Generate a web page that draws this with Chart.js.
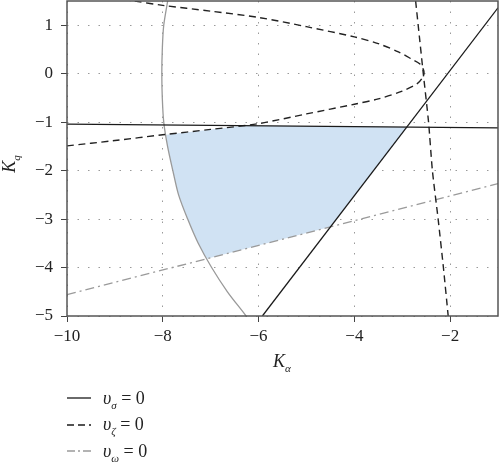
<!DOCTYPE html>
<html>
<head>
<meta charset="utf-8">
<script src="https://cdn.jsdelivr.net/npm/chart.js@4"></script>
<style>
  body { margin: 0; background: #fff; }
  #wrap { position: relative; width: 500px; height: 469px; font-family: "Liberation Serif", "DejaVu Serif", serif; color: #222; }
  #chart { position: absolute; left: 0; top: 0; }
  .axis-title { position: absolute; font-size: 18px; line-height: 20px; white-space: nowrap; }
  .axis-title i { font-style: italic; }
  .axis-title sub, .lab sub { font-size: 11px; vertical-align: baseline; position: relative; top: 5px; font-style: italic; }
  #xTitle { left: 273px; top: 351px; }
  #yTitle { left: -5px; top: 153px; width: 30px; text-align: center; transform: rotate(-90deg); }
  #legend { position: absolute; left: 67px; top: 385px; }
  .item { height: 26.5px; display: flex; align-items: center; }
  .lab { margin-left: 12px; font-size: 18px; }
  .lab i { font-style: italic; }
</style>
</head>
<body>
<div id="wrap">
  <canvas id="chart" width="500" height="469"></canvas>
  <div id="xTitle" class="axis-title"><i>K</i><sub>α</sub></div>
  <div id="yTitle" class="axis-title"><i>K</i><sub>q</sub></div>
  <div id="legend"></div>
</div>
<script>
// axis ranges and ticks
const xRange = [-10, -1];
const yRange = [-5, 1.5];
const xStep = 2;
const yStep = 1;

// v_sigma = 0 (two solid black lines)
const sigmaFlat = [[-10, -1.04], [-1, -1.12]];
const sigmaSlope = [[-5.92, -5], [-1, 1.36]];

// v_zeta = 0 (dashed): parabola-like branch and the near vertical branch
const zetaBend = [
  [-10, -1.49], [-9, -1.38], [-8, -1.26], [-7, -1.15], [-6, -1.03], [-5, -0.83],
  [-4, -0.63], [-3.5, -0.52], [-3, -0.36], [-2.68, -0.2], [-2.56, -0.05],
  [-2.55, 0.06], [-2.63, 0.2], [-2.8, 0.3], [-3.08, 0.45], [-3.5, 0.62],
  [-4, 0.76], [-5, 0.97], [-6, 1.16], [-7, 1.29], [-8, 1.41], [-8.6, 1.5], [-9, 1.56]
];
const zetaSteep = [
  [-2.72, 1.5], [-2.64, 0.75], [-2.56, 0], [-2.45, -1], [-2.37, -2],
  [-2.25, -3], [-2.14, -4], [-2.04, -5]
];

// v_omega = 0 (grey dash-dot)
const omegaLine = [[-10, -4.56], [-1, -2.27]];

// grey boundary curve
const boundCurve = [
  [-7.88, 1.6], [-7.98, 1.0], [-8.01, 0.5], [-8.02, 0], [-8.01, -0.5], [-7.98, -1.0],
  [-7.9, -1.5], [-7.79, -2], [-7.67, -2.5], [-7.48, -3], [-7.26, -3.5],
  [-6.98, -4], [-6.65, -4.5], [-6.26, -5], [-6.2, -5.1]
];

// shaded stable region
const stableRegion = [
  [-7.93, -1.26], [-7, -1.15], [-6.3, -1.07], [-2.9, -1.1], [-4.5, -3.16],
  [-7.08, -3.82], [-7.26, -3.5], [-7.48, -3], [-7.67, -2.5], [-7.79, -2],
  [-7.9, -1.5], [-7.93, -1.26]
];

const legendItems = [
  { sym: 'σ', color: '#1a1a1a', dash: '' },
  { sym: 'ζ', color: '#1a1a1a', dash: '7 4' },
  { sym: 'ω', color: '#9a9a9a', dash: '8 3 2 3' }
];

const pts = arr => arr.map(p => ({ x: p[0], y: p[1] }));
const minus = v => (v < 0 ? '\u2212' + Math.abs(v) : String(v));

function line(data, color, dash, width, tension) {
  return {
    data: pts(data),
    showLine: true,
    borderColor: color,
    borderWidth: width,
    borderDash: dash,
    pointRadius: 0,
    tension: tension || 0,
    fill: false
  };
}

const frame = {
  id: 'frame',
  afterDatasetsDraw(chart) {
    const { ctx, chartArea: a } = chart;
    ctx.save();
    ctx.strokeStyle = '#555';
    ctx.lineWidth = 1.5;
    ctx.strokeRect(a.left, a.top, a.right - a.left, a.bottom - a.top);
    ctx.restore();
  }
};

const tickFont = { family: "'Liberation Serif', 'DejaVu Serif', serif", size: 17 };

new Chart(document.getElementById('chart'), {
  type: 'scatter',
  data: {
    datasets: [
      line(sigmaFlat, '#1a1a1a', [], 1.3),
      line(sigmaSlope, '#1a1a1a', [], 1.3),
      line(zetaBend, '#222', [7, 4.5], 1.4, 0.3),
      line(zetaSteep, '#222', [7, 4.5], 1.4, 0.2),
      line(omegaLine, '#9a9a9a', [9, 4, 2, 4], 1.3),
      line(boundCurve, '#999', [], 1.3, 0.3),
      {
        data: pts(stableRegion),
        showLine: true,
        borderWidth: 0,
        borderColor: 'rgba(0,0,0,0)',
        backgroundColor: 'rgb(208, 226, 243)',
        pointRadius: 0,
        fill: 'shape'
      }
    ]
  },
  options: {
    responsive: false,
    animation: false,
    layout: { padding: { left: 0, top: 1, right: 2, bottom: 123 } },
    plugins: { legend: { display: false }, tooltip: { enabled: false } },
    scales: {
      x: {
        min: xRange[0],
        max: xRange[1],
        afterFit(s) { s.height = 30; s.paddingLeft = 0; s.paddingRight = 0; },
        border: { display: false, dash: [1.5, 9] },
        grid: { color: '#9a9a9a', lineWidth: 1, tickLength: 6, tickColor: '#444', tickWidth: 1, tickBorderDash: [] },
        ticks: { stepSize: xStep, includeBounds: false, padding: 4, color: '#222', font: tickFont, maxRotation: 0, callback: minus }
      },
      y: {
        min: yRange[0],
        max: yRange[1],
        afterFit(s) { s.width = 67; s.paddingTop = 0; s.paddingBottom = 0; },
        border: { display: false, dash: [1.5, 9] },
        grid: { color: '#9a9a9a', lineWidth: 1, tickLength: 6, tickColor: '#444', tickWidth: 1, tickBorderDash: [] },
        ticks: { stepSize: yStep, includeBounds: false, padding: 8, color: '#222', font: tickFont, callback: minus }
      }
    }
  },
  plugins: [frame]
});

// legend with subscripts
const legend = document.getElementById('legend');
legendItems.forEach(it => {
  const row = document.createElement('div');
  row.className = 'item';
  row.innerHTML =
    '<svg width="24" height="6"><line x1="0" y1="3" x2="24" y2="3" stroke="' + it.color +
    '" stroke-width="1.3" stroke-dasharray="' + it.dash + '"/></svg>' +
    '<span class="lab"><i>υ</i><sub>' + it.sym + '</sub> = 0</span>';
  legend.appendChild(row);
});
</script>
</body>
</html>
